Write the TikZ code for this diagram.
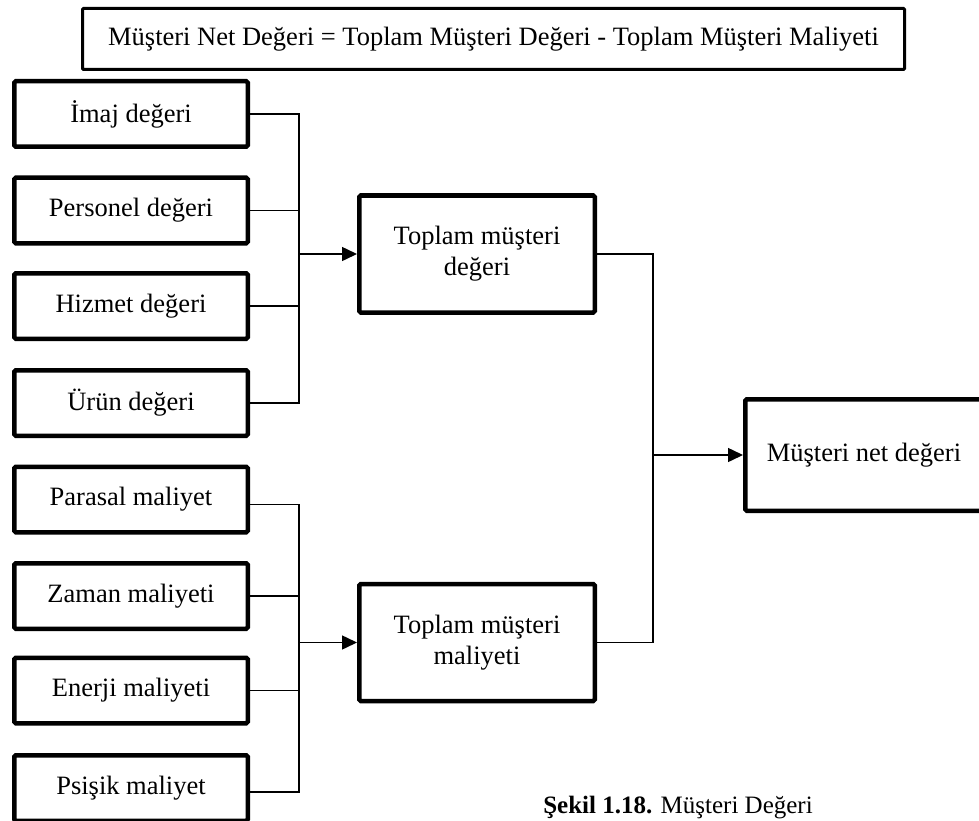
\documentclass[tikz,border=0pt]{standalone}
\usepackage{fontspec}
\setmainfont{Liberation Serif}
\usetikzlibrary{arrows.meta}
\begin{document}
\begin{tikzpicture}[x=1pt,y=-1pt,
  txt/.style={font=\fontsize{26.5}{31}\selectfont, inner sep=0pt, align=center},
  topbox/.style={txt, draw, line width=3pt, rounded corners=1pt, minimum width=822pt, minimum height=61pt},
  itembox/.style={txt, draw, line width=4.5pt, rounded corners=1.5pt, minimum width=233.5pt, minimum height=65.5pt},
  sumbox/.style={txt, draw, line width=4.5pt, rounded corners=1.5pt, minimum width=235.5pt, minimum height=117pt},
  netbox/.style={txt, draw, line width=4.5pt, rounded corners=1.5pt, minimum width=237.5pt, minimum height=111.5pt},
  conn/.style={line width=1.5pt},
  arr/.style={conn, -{Triangle[length=15pt,width=14pt]}}
]
\useasboundingbox (0,0) rectangle (979,821);

% formula box
\node[topbox] (formula) at (493.5,39) {Müşteri Net Değeri = Toplam Müşteri Değeri - Toplam Müşteri Maliyeti};

% value items
\node[itembox] (imaj)     at (131,114)   {İmaj değeri};
\node[itembox] (personel) at (131,210.5) {Personel değeri};
\node[itembox] (hizmet)   at (131,306)   {Hizmet değeri};
\node[itembox] (urun)     at (131,403)   {Ürün değeri};

% cost items
\node[itembox] (parasal)  at (131,499.5) {Parasal maliyet};
\node[itembox] (zaman)    at (131,596)   {Zaman maliyeti};
\node[itembox] (enerji)   at (131,690.5) {Enerji maliyeti};
\node[itembox] (psisik)   at (131,788)   {Psişik maliyet};

% totals
\node[sumbox] (tmd) at (477,254)   {Toplam müşteri\\değeri};
\node[sumbox] (tmm) at (477,642.5) {Toplam müşteri\\maliyeti};

% result
\node[netbox] (net) at (864,455) {Müşteri net değeri};

% caption
\node[font=\fontsize{25}{30}\selectfont, inner sep=0pt, anchor=base] (cap) at (678,813)
  {\textbf{Şekil 1.18.} Müşteri Değeri};

% value bus
\coordinate (vb) at (299,254);
\draw[conn] (imaj.east) -| (vb) |- (urun.east);
\draw[conn] (personel.east) -- (personel.east -| vb);
\draw[conn] (hizmet.east) -- (hizmet.east -| vb);
\draw[arr] (vb) -- (tmd.west);

% cost bus
\coordinate (cb) at (299,642.5);
\draw[conn] ([yshift=-5pt]parasal.east) -| (cb) |- ([yshift=-4pt]psisik.east);
\draw[conn] (zaman.east) -- (zaman.east -| cb);
\draw[conn] (enerji.east) -- (enerji.east -| cb);
\draw[arr] (cb) -- (tmm.west);

% result bus
\coordinate (rb) at (653,455);
\draw[conn] (tmd.east) -| (rb) |- (tmm.east);
\draw[arr] (rb) -- (net.west);
\end{tikzpicture}
\end{document}
